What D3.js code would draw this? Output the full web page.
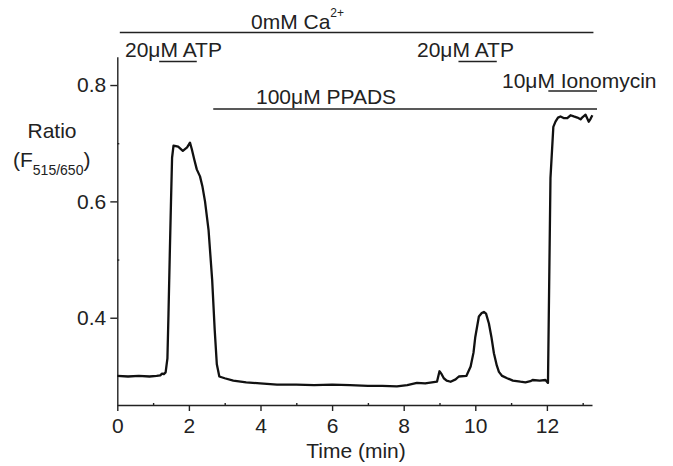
<!DOCTYPE html>
<html>
<head>
<meta charset="utf-8">
<script src="https://cdn.jsdelivr.net/npm/d3@7"></script>
<style>
    body { margin: 0; background: #fff; }
    text { font-family: "Liberation Sans", Arial, sans-serif; fill: #222; }
</style>
</head>
<body>
<svg id="chart"></svg>
<script>
const width = 673;
const height = 466;
const fontSize = '21px';

// trace
const timeMin = [
    0, 0.3, 0.6, 0.9, 1.1, 1.2, 1.25, 1.3, 1.35, 1.4,
    1.43, 1.47, 1.5, 1.53, 1.57, 1.7, 1.83, 1.95, 2.03, 2.08,
    2.15, 2.22, 2.31, 2.38, 2.45, 2.55, 2.65, 2.72, 2.78, 2.85,
    3.0, 3.24, 3.6, 3.99, 4.46, 5.0, 5.5, 6.0, 6.5, 7.0,
    7.4, 7.81, 8.1, 8.37, 8.6, 8.93, 9.0, 9.06, 9.12, 9.2,
    9.31, 9.45, 9.54, 9.75, 9.87, 9.95, 10.0, 10.1, 10.18, 10.24,
    10.3, 10.38, 10.45, 10.52, 10.6, 10.66, 10.75, 10.89, 11.05, 11.26,
    11.4, 11.54, 11.6, 11.8, 11.96, 12.03, 12.1, 12.18, 12.24, 12.31,
    12.38, 12.48, 12.57, 12.66, 12.75, 12.85, 12.94, 13.0, 13.08, 13.17,
    13.22, 13.27
];
const ratio = [
    0.300, 0.299, 0.300, 0.299, 0.300, 0.301, 0.304, 0.303, 0.306, 0.330,
    0.407, 0.520, 0.600, 0.675, 0.696, 0.694, 0.687, 0.693, 0.701, 0.690,
    0.672, 0.655, 0.643, 0.625, 0.600, 0.550, 0.465, 0.380, 0.320, 0.299,
    0.296, 0.292, 0.289, 0.287, 0.285, 0.285, 0.284, 0.285, 0.284, 0.283,
    0.283, 0.282, 0.284, 0.288, 0.287, 0.290, 0.308, 0.303, 0.296, 0.292,
    0.290, 0.294, 0.299, 0.300, 0.316, 0.340, 0.367, 0.402, 0.408, 0.410,
    0.407, 0.390, 0.367, 0.339, 0.318, 0.307, 0.300, 0.296, 0.292, 0.290,
    0.289, 0.291, 0.293, 0.292, 0.293, 0.288, 0.640, 0.728, 0.737, 0.744,
    0.746, 0.743, 0.743, 0.748, 0.746, 0.744, 0.741, 0.745, 0.749, 0.737,
    0.742, 0.748
];

const xTicks = [0, 2, 4, 6, 8, 10, 12];
const xMinorTicks = [1, 3, 5, 7, 9, 11, 13];
const yTicks = [0.4, 0.6, 0.8];
const yMinorTicks = [0.5, 0.7];

// treatment bars (minutes)
const treatments = ['0mM Ca', '20μM ATP', '100μM PPADS', '20μM ATP', '10μM Ionomycin'];
const treatStart = [0.07, 1.17, 2.68, 9.53, 12.04];
const treatEnd = [13.3, 2.22, 13.4, 10.6, 13.4];

// where each label sits: text left, text baseline, bar y
const treatLayout = [
    { tx: 251, ty: 29, by: 32.5 },
    { tx: 125, ty: 57, by: 61.5 },
    { tx: 256, ty: 104, by: 109 },
    { tx: 417, ty: 57, by: 61.5 },
    { tx: 502, ty: 87.5, by: 91 }
];

const x = d3.scaleLinear().domain([0, 13.26]).range([117.3, 592]);
const y = d3.scaleLinear().domain([0.25, 0.8487]).range([405, 56.7]);

const svg = d3.select('#chart')
    .attr('width', width)
    .attr('height', height);

function styleAxis(g) {
    g.selectAll('path, line').attr('stroke', '#222').attr('stroke-width', 1.4);
}

// x axis
const xAxis = svg.append('g')
    .attr('transform', `translate(0, ${y(0.25)})`)
    .call(d3.axisBottom(x).tickValues(xTicks).tickSize(6).tickSizeOuter(0).tickFormat(d3.format('d')))
    .call(styleAxis);
xAxis.selectAll('text')
    .attr('y', 28)
    .attr('dy', null)
    .style('font-size', fontSize)
    .style('font-family', '"Liberation Sans", Arial, sans-serif')
    .attr('fill', '#222');
svg.append('g')
    .attr('transform', `translate(0, ${y(0.25)})`)
    .call(d3.axisTop(x).tickValues(xMinorTicks).tickSize(2).tickFormat(''))
    .call(g => g.select('.domain').remove())
    .call(styleAxis);

// y axis
const yAxis = svg.append('g')
    .attr('transform', `translate(${x(0)}, 0)`)
    .call(d3.axisLeft(y).tickValues(yTicks).tickSize(7).tickPadding(4).tickSizeOuter(0).tickFormat(d3.format('.1f')))
    .call(styleAxis);
yAxis.selectAll('text')
    .style('font-size', fontSize)
    .style('font-family', '"Liberation Sans", Arial, sans-serif')
    .attr('fill', '#222');
svg.append('g')
    .attr('transform', `translate(${x(0)}, 0)`)
    .call(d3.axisRight(y).tickValues(yMinorTicks).tickSize(2).tickFormat(''))
    .call(g => g.select('.domain').remove())
    .call(styleAxis);

// axis titles
svg.append('text')
    .attr('x', 356)
    .attr('y', 458)
    .attr('text-anchor', 'middle')
    .style('font-size', fontSize)
    .text('Time (min)');

svg.append('text')
    .attr('x', 52)
    .attr('y', 138)
    .attr('text-anchor', 'middle')
    .style('font-size', fontSize)
    .text('Ratio');

const yl = svg.append('text')
    .attr('x', 13)
    .attr('y', 167)
    .style('font-size', fontSize);
yl.append('tspan').text('(F');
yl.append('tspan').attr('dy', 8).style('font-size', '14px').text('515/650');
yl.append('tspan').attr('dy', -8).text(')');

// trace
const points = timeMin.map((t, i) => [t, ratio[i]]);
svg.append('path')
    .datum(points)
    .attr('fill', 'none')
    .attr('stroke', '#111')
    .attr('stroke-width', 2.3)
    .attr('stroke-linejoin', 'round')
    .attr('d', d3.line().x(d => x(d[0])).y(d => y(d[1])));

// treatment bars and labels
const treat = svg.selectAll('g.treat')
    .data(treatments)
    .enter().append('g')
    .classed('treat', true);
treat.append('line')
    .attr('x1', (_, i) => x(treatStart[i]))
    .attr('x2', (_, i) => x(treatEnd[i]))
    .attr('y1', (_, i) => treatLayout[i].by)
    .attr('y2', (_, i) => treatLayout[i].by)
    .attr('stroke', '#222')
    .attr('stroke-width', 1.5);
const label = treat.append('text')
    .attr('x', (_, i) => treatLayout[i].tx)
    .attr('y', (_, i) => treatLayout[i].ty)
    .style('font-size', fontSize)
    .text(_ => _);
label.filter((_, i) => i === 0)
    .append('tspan')
    .attr('dy', -12)
    .style('font-size', '12px')
    .text('2+');
</script>
</body>
</html>
